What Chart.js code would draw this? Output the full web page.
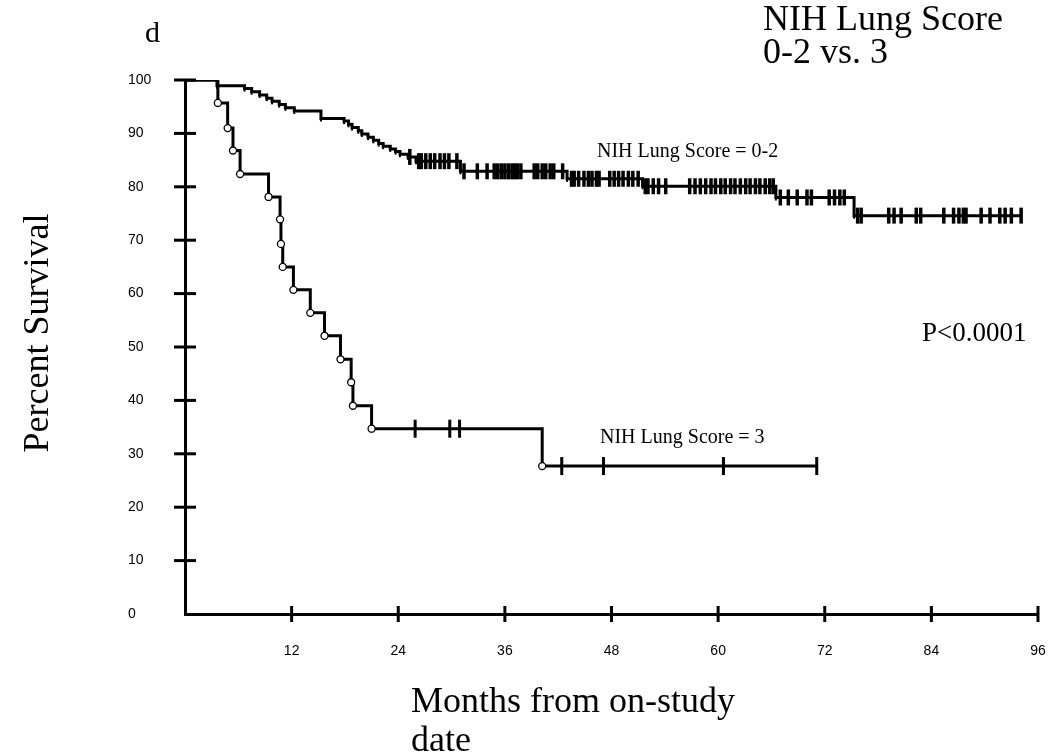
<!DOCTYPE html>
<html>
<head>
<meta charset="utf-8">
<script src="https://cdn.jsdelivr.net/npm/chart.js@4.4.1/dist/chart.umd.min.js"></script>
<style>
  html, body { margin: 0; padding: 0; background: #fff; }
</style>
</head>
<body>
<canvas id="km" width="1050" height="753"></canvas>
<script>
// values (months, percent survival)
const xTicks = [12, 24, 36, 48, 60, 72, 84, 96];
const yTicks = [0, 10, 20, 30, 40, 50, 60, 70, 80, 90, 100];

// NIH Lung Score = 0-2 : event times and survival after each event
const lowTimes = [3.6, 6.7, 7.5, 8.4, 9.2, 9.8, 10.6, 11.3, 12.3, 15.3, 17.9, 18.4, 18.8, 19.5, 19.9, 20.6,
  21.2, 21.8, 22.3, 23.1, 23.7, 24.2, 25.1, 26.0, 31.0, 43.0, 51.5, 66.5, 75.3];
const lowSurv = [98.9, 98.4, 97.8, 97.2, 96.6, 96.0, 95.4, 94.8, 94.2, 92.8, 92.3, 91.7, 91.1, 90.5, 89.9, 89.3,
  88.7, 88.1, 87.6, 87.1, 86.6, 86.1, 85.6, 84.8, 82.9, 81.5, 80.1, 78.0, 74.6];
const lowCensor = [25.3, 26.3, 26.6, 27.1, 27.6, 28.1, 28.7, 29.2, 29.7, 30.6, 31.4, 32.9, 34.0, 34.8, 35.2, 35.6,
  36.0, 36.4, 36.8, 37.1, 37.4, 37.8, 39.3, 39.7, 40.2, 40.6, 41.1, 41.5, 42.5, 43.5, 43.8, 44.3, 44.9, 45.4,
  45.8, 46.3, 46.6, 47.8, 48.3, 48.8, 49.3, 49.9, 50.4, 51.0, 51.8, 52.1, 52.7, 53.3, 54.1, 56.8, 57.4, 58.0,
  58.6, 59.2, 59.7, 60.3, 60.8, 61.4, 61.9, 62.5, 63.1, 63.6, 64.2, 64.7, 65.3, 65.8, 66.2, 67.0, 67.9, 68.9,
  70.0, 70.5, 72.5, 73.1, 73.7, 74.2, 75.7, 76.1, 79.2, 79.8, 80.6, 82.3, 82.8, 85.4, 86.5, 87.1, 87.6, 87.9,
  89.6, 90.6, 91.7, 92.3, 93.0, 94.1];

// NIH Lung Score = 3
const highTimes = [3.7, 4.8, 5.4, 6.2, 9.4, 10.7, 10.8, 11.0, 12.2, 14.1, 15.7, 17.5, 18.7, 18.9, 21.0, 40.2];
const highSurv = [95.7, 91.0, 86.8, 82.4, 78.1, 73.9, 69.3, 65.0, 60.7, 56.4, 52.1, 47.7, 43.4, 39.0, 34.7, 27.7];
const highCensor = [25.9, 29.8, 30.9, 42.4, 47.1, 60.6, 71.1];

function survAt(times, surv, t) {
  let s = 100;
  for (let i = 0; i < times.length; i++) {
    if (times[i] <= t) s = surv[i];
  }
  return s;
}

function curve(times, surv, censor) {
  const pts = [{ x: 0, y: 100 }];
  times.forEach((t, i) => pts.push({ x: t, y: surv[i] }));
  const last = censor[censor.length - 1];
  pts.push({ x: last, y: survAt(times, surv, last) });
  return pts;
}

function marks(times, surv, censor) {
  return censor.map((t) => ({ x: t, y: survAt(times, surv, t) }));
}

const endless = (r) => (ctx) =>
  ctx.dataIndex === 0 || ctx.dataIndex === ctx.dataset.data.length - 1 ? 0 : r;

const crossTicks = {
  id: 'crossTicks',
  afterDraw(chart) {
    const { ctx, scales: { x, y } } = chart;
    ctx.save();
    ctx.strokeStyle = '#000';
    ctx.lineWidth = 3;
    xTicks.forEach((v) => {
      const px = x.getPixelForValue(v);
      ctx.beginPath();
      ctx.moveTo(px, y.bottom - 8);
      ctx.lineTo(px, y.bottom + 8);
      ctx.stroke();
    });
    yTicks.forEach((v) => {
      if (v === 0) return;
      const py = y.getPixelForValue(v);
      ctx.beginPath();
      ctx.moveTo(x.left - 11, py);
      ctx.lineTo(x.left + 11, py);
      ctx.stroke();
    });
    ctx.restore();
  },
};

const labels = {
  id: 'labels',
  afterDraw(chart) {
    const ctx = chart.ctx;
    const serif = '"Liberation Serif", "Times New Roman", serif';
    ctx.save();
    ctx.fillStyle = '#000';
    ctx.textAlign = 'left';
    ctx.textBaseline = 'alphabetic';
    ctx.font = '30px ' + serif;
    ctx.fillText('d', 145, 42);
    ctx.font = '36px ' + serif;
    ctx.fillText('NIH Lung Score', 763, 30);
    ctx.fillText('0-2 vs. 3', 763, 63);
    ctx.fillText('Months from on-study', 411, 712);
    ctx.fillText('date', 411, 751);
    ctx.font = '27px ' + serif;
    ctx.fillText('P<0.0001', 922, 341);
    ctx.font = '20px ' + serif;
    ctx.fillText('NIH Lung Score = 0-2', 597, 157);
    ctx.fillText('NIH Lung Score = 3', 600, 443);
    ctx.translate(48, 333);
    ctx.rotate(-Math.PI / 2);
    ctx.textAlign = 'center';
    ctx.font = '36px ' + serif;
    ctx.fillText('Percent Survival', 0, 0);
    ctx.restore();
  },
};

new Chart(document.getElementById('km'), {
  type: 'line',
  data: {
    datasets: [
      {
        label: 'NIH Lung Score = 0-2',
        data: curve(lowTimes, lowSurv, lowCensor),
        stepped: true,
        borderColor: '#000',
        borderWidth: 3,
        pointStyle: 'line',
        rotation: 90,
        pointRadius: endless(3),
        pointBorderColor: '#000',
        pointBorderWidth: 2,
      },
      {
        label: 'NIH Lung Score = 3',
        data: curve(highTimes, highSurv, highCensor),
        stepped: true,
        borderColor: '#000',
        borderWidth: 3,
        pointStyle: 'circle',
        pointRadius: endless(3.5),
        pointBackgroundColor: '#fff',
        pointBorderColor: '#000',
        pointBorderWidth: 1.3,
      },
      {
        label: 'censored 0-2',
        data: marks(lowTimes, lowSurv, lowCensor),
        showLine: false,
        pointStyle: 'line',
        rotation: 90,
        pointRadius: 8,
        pointBorderColor: '#000',
        pointBorderWidth: 3.5,
      },
      {
        label: 'censored 3',
        data: marks(highTimes, highSurv, highCensor),
        showLine: false,
        pointStyle: 'line',
        rotation: 90,
        pointRadius: 9,
        pointBorderColor: '#000',
        pointBorderWidth: 3,
      },
    ],
  },
  options: {
    responsive: false,
    animation: false,
    layout: { padding: { left: 128, top: 80, right: 3, bottom: 0 } },
    scales: {
      x: {
        type: 'linear',
        min: 0,
        max: 96,
        grid: { drawOnChartArea: false, color: 'transparent', tickLength: 29 },
        border: { color: '#000', width: 3 },
        afterBuildTicks: (scale) => {
          scale.ticks = xTicks.map((v) => ({ value: v }));
        },
        afterFit: (scale) => {
          scale.height = 139;
          scale.paddingRight = 0;
        },
        ticks: {
          padding: 0,
          color: '#000',
          maxRotation: 0,
          font: { size: 14, family: '"Liberation Sans", Arial, sans-serif' },
        },
      },
      y: {
        min: 0,
        max: 100,
        grid: { display: false },
        border: { color: '#000', width: 3 },
        afterBuildTicks: (scale) => {
          scale.ticks = yTicks.map((v) => ({ value: v }));
        },
        afterFit: (scale) => {
          scale.width = 57;
        },
        ticks: {
          crossAlign: 'far',
          color: '#000',
          font: { size: 14, family: '"Liberation Sans", Arial, sans-serif' },
        },
      },
    },
    plugins: {
      legend: { display: false },
      tooltip: { enabled: false },
    },
  },
  plugins: [crossTicks, labels],
});
</script>
</body>
</html>
